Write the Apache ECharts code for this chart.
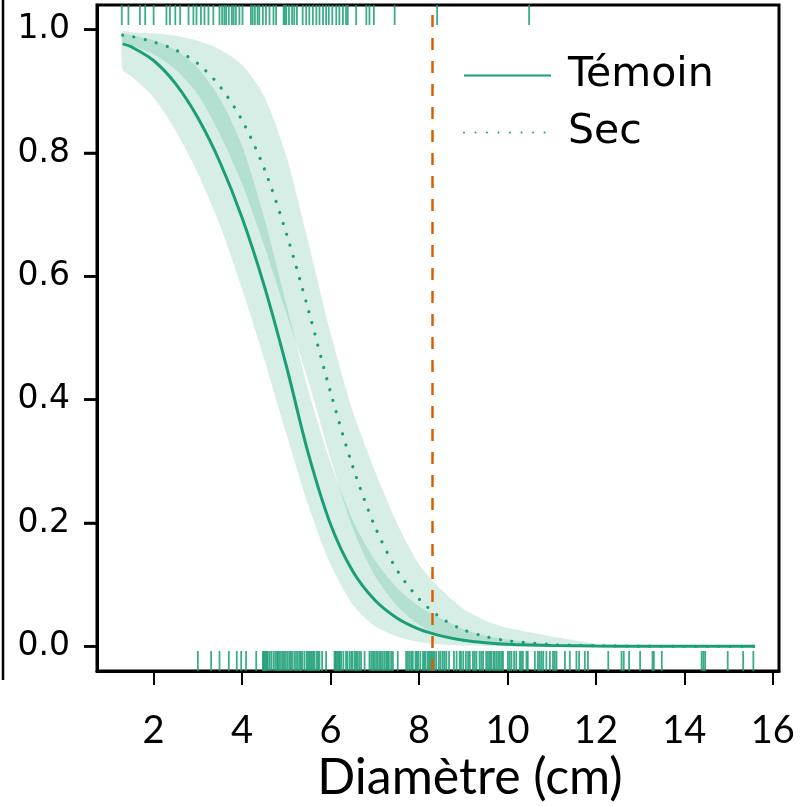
<!DOCTYPE html>
<html>
<head>
<meta charset="utf-8">
<script src="https://cdn.jsdelivr.net/npm/echarts@6/dist/echarts.min.js"></script>
<style>html,body{margin:0;padding:0;background:#fff;}#c{width:803px;height:806px;}</style>
</head>
<body>
<div id="c"></div>
<script>
// Diameter grid (cm)
const xs = [1.3, 1.5, 2, 2.5, 3, 3.5, 4, 4.5, 5, 5.5, 6, 6.5, 7, 7.5, 8, 8.5, 9, 9.5, 10, 11, 12, 13, 14, 15, 15.6];
// Témoin: fitted probability and confidence band
const temoin   = [0.977, 0.972, 0.950, 0.912, 0.857, 0.785, 0.695, 0.585, 0.455, 0.312, 0.198, 0.122, 0.075, 0.046, 0.028, 0.017, 0.010, 0.006, 0.0035, 0.0013, 0.0005, 0.0002, 0.0001, 0, 0];
const temoinLo = [0.934, 0.924, 0.890, 0.836, 0.767, 0.683, 0.580, 0.466, 0.345, 0.228, 0.133, 0.068, 0.033, 0.016, 0.007, 0.003, 0.0012, 0.0005, 0.0002, 0, 0, 0, 0, 0, 0];
const temoinHi = [0.993, 0.991, 0.983, 0.967, 0.938, 0.888, 0.812, 0.695, 0.555, 0.415, 0.298, 0.205, 0.140, 0.095, 0.065, 0.045, 0.028, 0.017, 0.011, 0.004, 0.0015, 0.0005, 0.0002, 0.0001, 0];
// Sec: fitted probability and confidence band
const sec   = [0.991, 0.989, 0.980, 0.967, 0.945, 0.908, 0.853, 0.775, 0.670, 0.545, 0.412, 0.292, 0.195, 0.124, 0.077, 0.046, 0.027, 0.016, 0.009, 0.003, 0.001, 0.0003, 0.0001, 0, 0];
const secLo = [0.978, 0.974, 0.960, 0.935, 0.895, 0.830, 0.750, 0.650, 0.540, 0.430, 0.305, 0.192, 0.115, 0.066, 0.035, 0.017, 0.009, 0.004, 0.002, 0.0005, 0.0001, 0, 0, 0, 0];
const secHi = [0.997, 0.996, 0.994, 0.990, 0.982, 0.968, 0.943, 0.892, 0.795, 0.655, 0.508, 0.382, 0.285, 0.200, 0.133, 0.092, 0.061, 0.042, 0.030, 0.016, 0.005, 0.0015, 0.0005, 0.0001, 0];
// Rug: observed diameters (response = 1 on top, response = 0 at bottom)
const rugTop = [1.28,1.43,1.69,1.81,2.00,2.29,2.37,2.49,2.60,2.79,2.90,2.97,3.07,3.15,3.24,3.35,3.49,3.55,3.60,3.64,3.70,3.77,3.81,3.86,3.94,4.01,4.20,4.24,4.29,4.35,4.39,4.47,4.54,4.62,4.71,4.77,4.94,4.97,5.00,5.06,5.13,5.18,5.24,5.37,5.45,5.52,5.60,5.68,5.75,5.83,5.90,5.96,6.04,6.13,6.20,6.28,6.35,6.39,6.58,6.81,6.88,6.98,7.45,8.41,10.49];
const rugBottom = [3.00,3.30,3.49,3.70,3.88,3.98,4.09,4.32,4.47,4.49,4.51,4.54,4.56,4.58,4.62,4.66,4.71,4.75,4.79,4.81,4.84,4.88,4.92,4.95,4.99,5.03,5.07,5.10,5.13,5.18,5.22,5.26,5.30,5.33,5.36,5.41,5.46,5.49,5.52,5.55,5.58,5.61,5.64,5.69,5.72,5.75,5.81,5.90,6.09,6.11,6.13,6.16,6.19,6.21,6.24,6.29,6.35,6.38,6.43,6.47,6.50,6.55,6.58,6.61,6.65,6.69,6.77,6.88,6.92,6.96,6.99,7.03,7.07,7.11,7.14,7.18,7.22,7.26,7.29,7.32,7.37,7.41,7.52,7.71,7.75,7.79,7.83,7.86,7.92,7.95,7.98,8.03,8.09,8.12,8.15,8.20,8.23,8.26,8.29,8.32,8.35,8.39,8.45,8.49,8.54,8.58,8.62,8.68,8.79,8.85,8.92,8.95,9.00,9.06,9.11,9.15,9.22,9.26,9.30,9.37,9.41,9.45,9.52,9.56,9.60,9.63,9.68,9.71,9.75,9.79,9.83,9.87,9.90,10.01,10.05,10.09,10.15,10.20,10.28,10.31,10.35,10.43,10.46,10.62,10.69,10.73,10.77,10.81,10.88,10.96,11.03,11.07,11.11,11.30,11.41,11.56,11.62,11.75,11.82,12.28,12.58,12.63,12.75,13.00,13.28,13.31,13.49,14.39,14.43,14.47,14.98,15.33,15.56];
// Threshold diameter (dashed line)
const seuil = 8.29;
// Tick labels
const xTicks = [2, 4, 6, 8, 10, 12, 14, 16];
const yTicks = [0, 0.2, 0.4, 0.6, 0.8, 1.0];

const X_MIN = 0.72, X_MAX = 16.14, Y_MIN = -0.04, Y_MAX = 1.04;
const GREEN = '#1b9e77';
const BAND = 'rgba(27,158,119,0.18)';
const RUG = 'rgba(27,158,119,0.85)';

const pairs = arr => xs.map((x, i) => [x, arr[i]]);

// confidence band drawn as one polygon through the axis scales
function bandSeries(name, lo, hi) {
  return {
    name: name, type: 'custom', silent: true, clip: true,
    data: xs.map((x, i) => [x, lo[i], hi[i]]),
    encode: {x: 0, y: [1, 2]},
    renderItem: function (params, api) {
      if (params.dataIndex !== 0) return null;
      const pts = [];
      for (let i = 0; i < xs.length; i++) pts.push(api.coord([xs[i], hi[i]]));
      for (let i = xs.length - 1; i >= 0; i--) pts.push(api.coord([xs[i], lo[i]]));
      return {type: 'polygon', shape: {points: pts, smooth: 0.25}, style: {fill: BAND}};
    }
  };
}

const chart = echarts.init(document.getElementById('c'), null, {renderer: 'canvas'});
chart.setOption({
  animation: false,
  backgroundColor: '#fff',
  grid: {left: 97, right: 24, top: 5, bottom: 135, show: true, borderColor: '#000', borderWidth: 3, backgroundColor: 'transparent'},
  xAxis: {
    type: 'value', min: X_MIN, max: X_MAX,
    axisLine: {show: true, onZero: false, lineStyle: {color: '#000', width: 3}}, splitLine: {show: false},
    axisTick: {show: true, length: 14, customValues: xTicks, lineStyle: {color: '#000', width: 2}},
    axisLabel: {customValues: xTicks, fontFamily: 'Lato', fontSize: 38, color: '#000', margin: 41}
  },
  yAxis: {
    type: 'value', min: Y_MIN, max: Y_MAX,
    axisLine: {show: true, onZero: false, lineStyle: {color: '#000', width: 3}}, splitLine: {show: false},
    axisTick: {show: true, inside: false, length: 13, customValues: yTicks, lineStyle: {color: '#000', width: 2.5}},
    axisLabel: {show: true, customValues: yTicks, formatter: v => v.toFixed(1), fontFamily: 'DejaVu Sans', fontSize: 33, color: '#000', margin: 27}
  },
  legend: {
    data: ['Témoin', 'Sec'], orient: 'vertical', left: 458, top: 50,
    itemWidth: 87, itemHeight: 20, itemGap: 16,
    itemStyle: {opacity: 0},
    textStyle: {fontFamily: 'DejaVu Sans', fontSize: 41, color: '#000', padding: [0, 0, 0, 12]}
  },
  graphic: [
    {type: 'line', shape: {x1: 3, y1: 0, x2: 3, y2: 680}, style: {stroke: '#000', lineWidth: 2.5}},
    {type: 'text', x: 470, y: 778, style: {text: 'Diamètre (cm)', font: '50px Lato', fill: '#000', textAlign: 'center', textVerticalAlign: 'middle'}}
  ],
  series: [
    bandSeries('IC Témoin', temoinLo, temoinHi),
    bandSeries('IC Sec', secLo, secHi),
    {name: 'rug1', type: 'scatter', clip: false, data: rugTop.map(x => [x, Y_MAX]), symbol: 'rect', symbolSize: [1.8, 20], symbolOffset: [0, 10], itemStyle: {color: RUG, opacity: 1}, silent: true},
    {name: 'rug0', type: 'scatter', clip: false, data: rugBottom.map(x => [x, Y_MIN]), symbol: 'rect', symbolSize: [1.8, 20], symbolOffset: [0, -10], itemStyle: {color: RUG, opacity: 1}, silent: true},
    {name: 'Témoin', type: 'line', data: pairs(temoin), symbol: 'none', showSymbol: false, smooth: 0.3, lineStyle: {color: GREEN, width: 3}, itemStyle: {color: GREEN}},
    {name: 'Sec', type: 'line', data: pairs(sec), symbol: 'none', showSymbol: false, smooth: 0.3, lineStyle: {color: GREEN, width: 3.2, type: [0.01, 11.5], cap: 'round'}, itemStyle: {color: GREEN}},
    {name: 'seuil', type: 'line', data: [], markLine: {silent: true, symbol: 'none', label: {show: false}, lineStyle: {color: '#d95f02', width: 2.5, type: [12, 11]}, data: [{xAxis: seuil}]}},
    // y-axis tick marks placed through the y scale
    {name: 'yTickMarks', type: 'custom', silent: true, clip: false,
      data: yTicks.map(v => [X_MIN, v]), encode: {x: 0, y: 1},
      renderItem: function (params, api) {
        const p = api.coord([X_MIN, api.value(1)]);
        return {type: 'line', shape: {x1: p[0] - 13, y1: p[1], x2: p[0], y2: p[1]}, style: {stroke: '#000', lineWidth: 2.5}};
      }}
  ]
});
</script>
</body>
</html>
